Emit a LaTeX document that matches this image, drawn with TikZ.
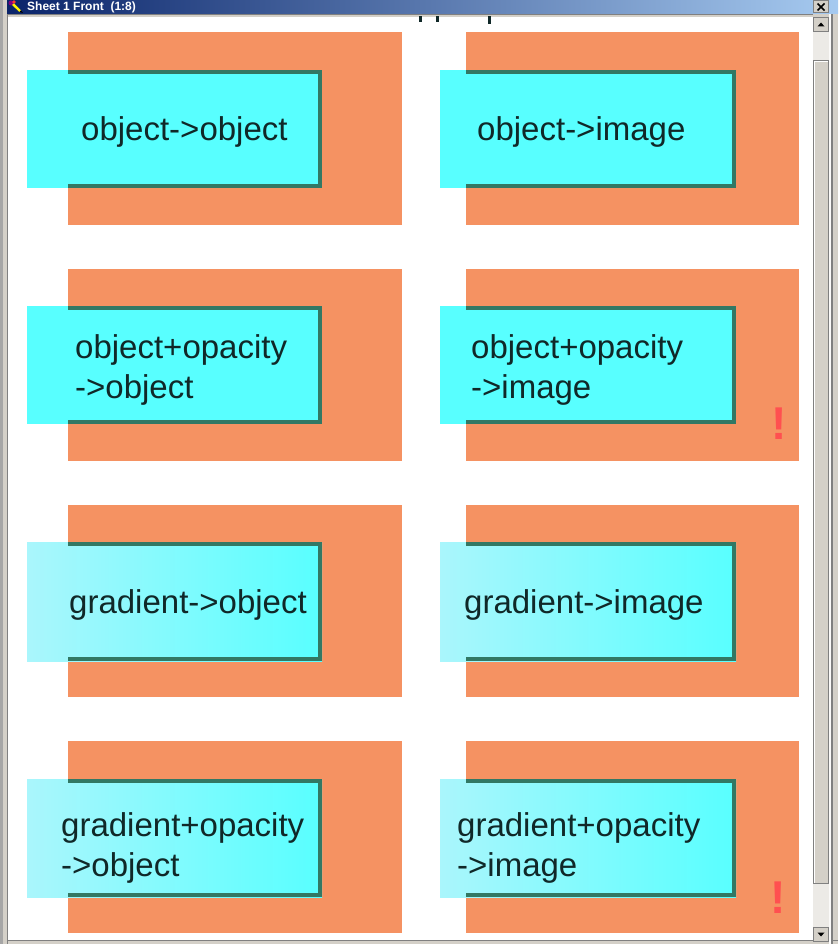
\documentclass[tikz,border=0pt]{standalone}
\usepackage{fontspec}
\setmainfont{Liberation Sans}
\usepackage{tikz}
\usepackage{color}

\definecolor{paneltone}{RGB}{245,146,98}
\definecolor{boxcyan}{RGB}{88,255,255}
\definecolor{boxpale}{RGB}{170,246,252}
\definecolor{rimgreen}{RGB}{50,120,100}
\definecolor{inktone}{RGB}{16,40,40}
\definecolor{warnred}{RGB}{255,80,80}
\definecolor{barleft}{RGB}{10,36,106}
\definecolor{barright}{RGB}{166,202,240}
\definecolor{chromegray}{RGB}{212,208,200}
\definecolor{chromedark}{RGB}{128,128,128}
\definecolor{trackgray}{RGB}{236,234,230}

\begin{document}
\begin{tikzpicture}[x=1pt,y=-1pt]
  \tikzstyle{panel}=[fill=paneltone]
  \tikzstyle{cyanbox}=[fill=boxcyan]
  \tikzstyle{fadebox}=[left color=boxpale,middle color=boxcyan!90!boxpale,right color=boxcyan]
  \tikzstyle{rim}=[draw=rimgreen,line width=4pt]
  \tikzstyle{boxtext}=[anchor=base west,inner sep=0pt,text=inktone,font=\fontsize{33}{40}\selectfont]
  \tikzstyle{warnmark}=[anchor=base,inner sep=0pt,text=warnred,font=\fontsize{46}{50}\selectfont\bfseries]
  \tikzstyle{knob}=[fill=chromegray,draw=chromedark,line width=1pt]

  \useasboundingbox (0,0) rectangle (838,944);

  % window frame
  \fill[chromegray] (0,0) rectangle (838,944);
  \fill[chromedark!70] (0,0) rectangle (3,944);
  \fill[chromedark] (7,14) rectangle (8,944);
  \shade[left color=barleft,right color=barright] (7,0) rectangle (838,14);
  \fill[chromedark] (8,14) rectangle (813,15.5);
  \fill[white] (8,17) rectangle (813,940);
  \fill[chromedark] (8,940) rectangle (838,941);
  \fill[white!90!chromegray] (829,14) rectangle (831,944);
  \fill[chromedark] (831,14) rectangle (833,944);

  % title bar
  \fill[violet] (11,3) circle (2.5);
  \fill[red!80] (14,2) circle (1.8);
  \fill[yellow] (12,5) -- (14,3.5) -- (21,10.5) -- (19.5,12) -- cycle;
  \fill[black] (19.5,12) -- (21,10.5) -- (23,13) -- cycle;
  \node[anchor=base west,inner sep=0pt,text=white,font=\fontsize{12}{14}\selectfont\bfseries] (title) at (27,10.5) {Sheet 1 Front\ \ (1:8)};
  \draw[knob] (813.5,0.5) rectangle (828.5,13);
  \draw[black,line width=1.6pt] (817.5,3.5) -- (824.5,10.5) (824.5,3.5) -- (817.5,10.5);

  % scroll bar
  \fill[trackgray] (813,17) rectangle (829,942);
  \draw[knob] (813.5,17.5) rectangle (828.5,31.5);
  \fill[black] (817.5,26.5) -- (824.5,26.5) -- (821,22.5) -- cycle;
  \draw[knob] (813.5,60.5) rectangle (828.5,883.5);
  \draw[white] (814.5,882.5) -- (814.5,61.5) -- (827.5,61.5);
  \draw[knob] (813.5,927.5) rectangle (828.5,941.5);
  \fill[black] (817.5,932.5) -- (824.5,932.5) -- (821,936.5) -- cycle;

  % clipped heading above the sheet
  \fill[inktone] (419,16) rectangle (421.5,22);
  \fill[inktone] (436,16) rectangle (438.5,22);
  \fill[inktone] (488,16) rectangle (490.5,24);

  % row 1
  \fill[panel] (68,32) rectangle (402,225);
  \fill[cyanbox] (27,70) rectangle (322,188);
  \begin{scope}
    \clip (68,32) rectangle (402,225);
    \draw[rim] (20,72) rectangle (320,186);
  \end{scope}
  \node[boxtext] (objobj) at (81,141) {object->object};

  \fill[panel] (466,32) rectangle (799,225);
  \fill[cyanbox] (440,70) rectangle (736,188);
  \begin{scope}
    \clip (466,32) rectangle (799,225);
    \draw[rim] (430,72) rectangle (734,186);
  \end{scope}
  \node[boxtext] (objimg) at (477,141) {object->image};

  % row 2
  \fill[panel] (68,269) rectangle (402,461);
  \fill[cyanbox] (27,306) rectangle (322,424);
  \begin{scope}
    \clip (68,269) rectangle (402,461);
    \draw[rim] (20,308) rectangle (320,422);
  \end{scope}
  \node[boxtext] (opaobj) at (75,358) {object+opacity};
  \node[boxtext] (opaobjb) at (75,398) {->object};

  \fill[panel] (466,269) rectangle (799,461);
  \fill[cyanbox] (440,306) rectangle (736,424);
  \begin{scope}
    \clip (466,269) rectangle (799,461);
    \draw[rim] (430,308) rectangle (734,422);
  \end{scope}
  \node[boxtext] (opaimg) at (471,358) {object+opacity};
  \node[boxtext] (opaimgb) at (471,398) {->image};
  \node[warnmark] (opaimgwarn) at (779.5,439) {!};

  % row 3
  \fill[panel] (68,505) rectangle (402,697);
  \shade[fadebox] (27,542) rectangle (322,661);
  \begin{scope}
    \clip (68,505) rectangle (402,697);
    \draw[rim] (20,544) rectangle (320,659);
  \end{scope}
  \node[boxtext] (gradobj) at (69,613) {gradient->object};

  \fill[panel] (466,505) rectangle (799,697);
  \shade[fadebox] (440,542) rectangle (736,661);
  \begin{scope}
    \clip (466,505) rectangle (799,697);
    \draw[rim] (430,544) rectangle (734,659);
  \end{scope}
  \node[boxtext] (gradimg) at (464,613) {gradient->image};

  % row 4
  \fill[panel] (68,741) rectangle (402,933);
  \shade[fadebox] (27,779) rectangle (322,897);
  \begin{scope}
    \clip (68,741) rectangle (402,933);
    \draw[rim] (20,781) rectangle (320,895);
  \end{scope}
  \node[boxtext] (gopaobj) at (61,836) {gradient+opacity};
  \node[boxtext] (gopaobjb) at (61,876) {->object};

  \fill[panel] (466,741) rectangle (799,933);
  \shade[fadebox] (440,779) rectangle (736,897);
  \begin{scope}
    \clip (466,741) rectangle (799,933);
    \draw[rim] (430,781) rectangle (734,895);
  \end{scope}
  \node[boxtext] (gopaimg) at (457,836) {gradient+opacity};
  \node[boxtext] (gopaimgb) at (457,876) {->image};
  \node[warnmark] (gopaimgwarn) at (778,913) {!};
\end{tikzpicture}
\end{document}
